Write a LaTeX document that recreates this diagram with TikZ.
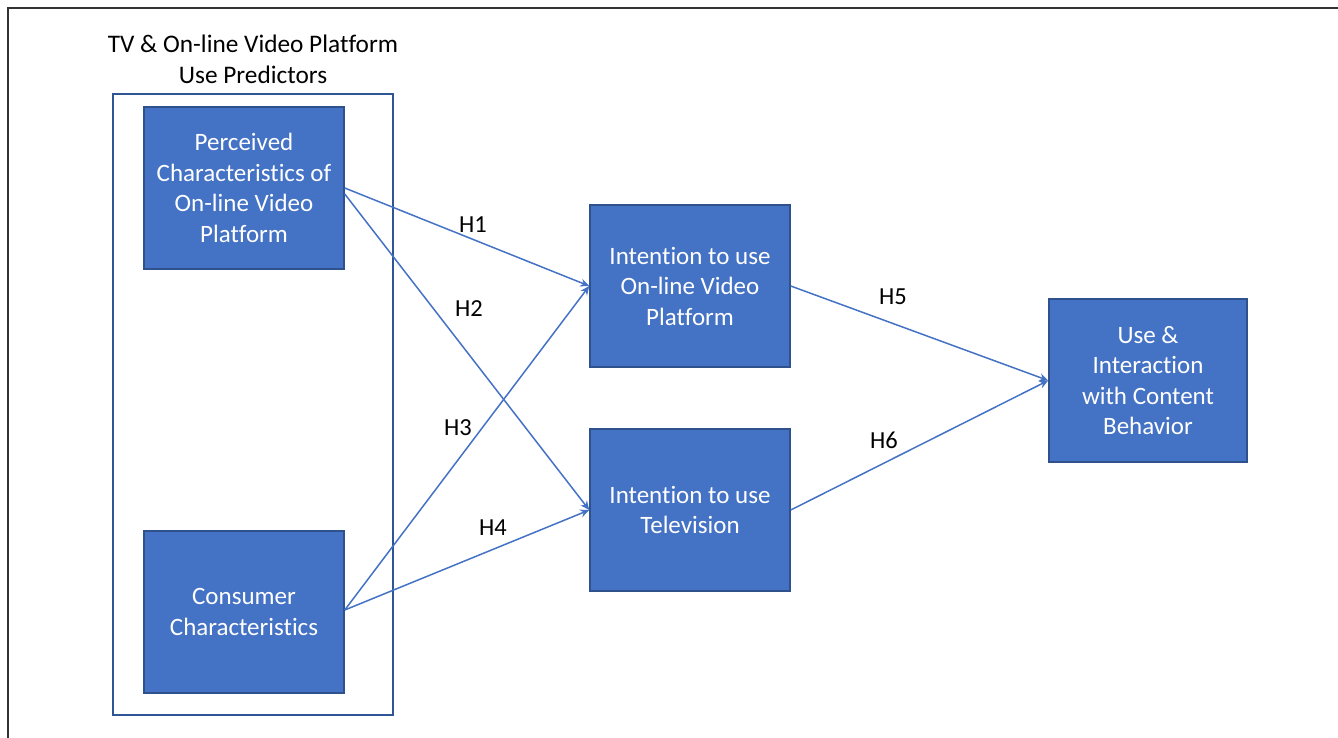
\documentclass[tikz,border=0pt]{standalone}
\usepackage{fontspec}
\setmainfont{Carlito}[Ligatures=NoCommon]
\usetikzlibrary{arrows.meta}
\definecolor{boxfill}{HTML}{4472C4}
\definecolor{boxline}{HTML}{2F528F}
\definecolor{grpline}{HTML}{2F5597}
\definecolor{arrcol}{HTML}{4472C4}
\definecolor{framecol}{HTML}{333333}
\tikzset{
  bluebox/.style={draw=boxline, line width=1.5pt, fill=boxfill, text=white,
    minimum width=200pt, minimum height=162pt, inner sep=0pt, align=center,
    font=\fontsize{25}{30.5}\selectfont},
  grpbox/.style={draw=grpline, line width=1.6pt},
  arr/.style={draw=arrcol, line width=1.5pt, -{Stealth[length=9pt,width=8pt]}},
  hlabel/.style={font=\fontsize{24.5}{28}\selectfont, text=black, inner sep=0pt},
  titletext/.style={font=\fontsize{25.3}{31}\selectfont, align=center, inner sep=0pt},
}
\begin{document}
\begin{tikzpicture}[x=1pt,y=-1pt]
\useasboundingbox (0,0) rectangle (1338,738);
% outer frame (top and left edges visible)
\draw[framecol, line width=2pt] (8,738) -- (8,8) -- (1338,8);
% group box
\node[grpbox, minimum width=280pt, minimum height=621pt, inner sep=0pt] (grp) at (253,404.5) {};
\node[titletext] (title) at (253,59) {TV \& On-line Video Platform\\Use Predictors};
% boxes
\node[bluebox] (pc) at (244,188) {Perceived\\Characteristics of\\On-line Video\\Platform};
\node[bluebox] (cc) at (244,612) {Consumer\\Characteristics};
\node[bluebox] (iov) at (690,286) {Intention to use\\On-line Video\\Platform};
\node[bluebox] (itv) at (690,510) {Intention to use\\Television};
\node[bluebox, minimum width=198pt, minimum height=163pt] (use) at (1148,380.5) {Use \&\\Interaction\\with Content\\Behavior};
% connectors
\draw[arr] (pc.east) -- (iov.west);
\draw[arr] ([yshift=-6pt]pc.east) -- (itv.west);
\draw[arr] ([yshift=2pt]cc.east) -- (iov.west);
\draw[arr] ([yshift=2pt]cc.east) -- (itv.west);
\draw[arr] (iov.east) -- (use.west);
\draw[arr] (itv.east) -- (use.west);
% labels
\node[hlabel] (h1) at (473,225) {H1};
\node[hlabel] (h2) at (469,309) {H2};
\node[hlabel] (h3) at (458,428) {H3};
\node[hlabel] (h4) at (493,528) {H4};
\node[hlabel] (h5) at (893,297) {H5};
\node[hlabel] (h6) at (884,440) {H6};
\end{tikzpicture}
\end{document}
